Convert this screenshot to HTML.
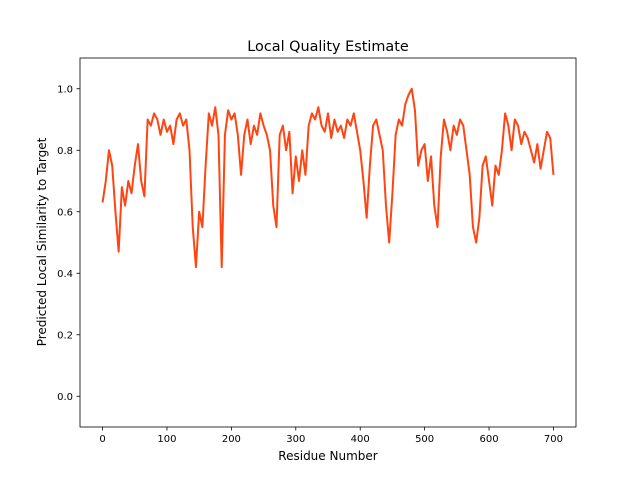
<!DOCTYPE html>
<html><head><meta charset="utf-8"><style>
body{margin:0;background:#fff;}
svg text{font-family:"DejaVu Sans","Liberation Sans",sans-serif;fill:#000;}
</style></head><body>
<svg id="chart" width="640" height="480" viewBox="0 0 640 480" xmlns="http://www.w3.org/2000/svg">
<rect x="0" y="0" width="640" height="480" fill="#fff"/>
<text x="328" y="51" font-size="14.4" text-anchor="middle">Local Quality Estimate</text>
<text x="328" y="460" font-size="12" text-anchor="middle">Residue Number</text>
<text x="46" y="242" font-size="12" text-anchor="middle" transform="rotate(-90 46 242)">Predicted Local Similarity to Target</text>
<g id="ticks"></g>
<path id="line" fill="none" stroke="#ff4512" stroke-width="2" stroke-linejoin="round"/>
<rect x="80" y="58" width="496" height="369" fill="none" stroke="#000" stroke-width="0.8"/>
</svg>
<script>
const residues = [0,5,10,15,20,25,30,35,40,45,50,55,60,65,70,75,80,85,90,95,100,105,110,115,120,125,130,135,140,145,150,155,160,165,170,175,180,185,190,195,200,205,210,215,220,225,230,235,240,245,250,255,260,265,270,275,280,285,290,295,300,305,310,315,320,325,330,335,340,345,350,355,360,365,370,375,380,385,390,395,400,405,410,415,420,425,430,435,440,445,450,455,460,465,470,475,480,485,490,495,500,505,510,515,520,525,530,535,540,545,550,555,560,565,570,575,580,585,590,595,600,605,610,615,620,625,630,635,640,645,650,655,660,665,670,675,680,685,690,695,700];
const scores = [0.63,0.70,0.80,0.75,0.60,0.47,0.68,0.62,0.70,0.66,0.75,0.82,0.70,0.65,0.90,0.88,0.92,0.90,0.85,0.90,0.86,0.88,0.82,0.90,0.92,0.88,0.90,0.80,0.55,0.42,0.60,0.55,0.75,0.92,0.88,0.94,0.85,0.42,0.85,0.93,0.90,0.92,0.85,0.72,0.85,0.90,0.82,0.88,0.85,0.92,0.88,0.85,0.80,0.62,0.55,0.85,0.88,0.80,0.86,0.66,0.78,0.70,0.80,0.72,0.88,0.92,0.90,0.94,0.88,0.86,0.92,0.84,0.90,0.86,0.88,0.84,0.90,0.88,0.92,0.86,0.80,0.70,0.58,0.75,0.88,0.90,0.85,0.80,0.62,0.50,0.66,0.85,0.90,0.88,0.95,0.98,1.0,0.93,0.75,0.80,0.82,0.70,0.78,0.62,0.55,0.78,0.90,0.86,0.80,0.88,0.85,0.90,0.88,0.80,0.72,0.55,0.50,0.58,0.75,0.78,0.70,0.62,0.75,0.72,0.80,0.92,0.88,0.80,0.90,0.88,0.82,0.86,0.84,0.80,0.76,0.82,0.74,0.80,0.86,0.84,0.72];
const xTicks = [0,100,200,300,400,500,600,700];
const yTicks = [0.0,0.2,0.4,0.6,0.8,1.0];
const X0=80,X1=576,Y0=427,Y1=58,xmin=-35,xmax=735,ymin=-0.1,ymax=1.1;
function xs(v){return X0+(v-xmin)/(xmax-xmin)*(X1-X0);}
function ys(v){return Y0-(v-ymin)/(ymax-ymin)*(Y0-Y1);}
const NS="http://www.w3.org/2000/svg";
const g=document.getElementById('ticks');
function mk(t,a){const e=document.createElementNS(NS,t);for(const k in a)e.setAttribute(k,a[k]);g.appendChild(e);return e;}
xTicks.forEach(v=>{
  const l=mk('line',{x1:xs(v),x2:xs(v),y1:Y0,y2:Y0+3.5,stroke:'#000','stroke-width':0.8});
  
  
  const t=mk('text',{x:xs(v),y:Y0+15,'font-size':10,'text-anchor':'middle'});
  t.textContent=v;
  
  
});
yTicks.forEach(v=>{
  const l=mk('line',{x1:X0-3.5,x2:X0,y1:ys(v),y2:ys(v),stroke:'#000','stroke-width':0.8});
  
  
  const t=mk('text',{x:X0-7,y:ys(v)+3.5,'font-size':10,'text-anchor':'end'});
  t.textContent=v.toFixed(1);
  
  
});
document.getElementById('line').setAttribute('d',residues.map((r,i)=>(i?'L':'M')+xs(r).toFixed(2)+' '+ys(scores[i]).toFixed(2)).join(' '));
</script>
</body></html>
